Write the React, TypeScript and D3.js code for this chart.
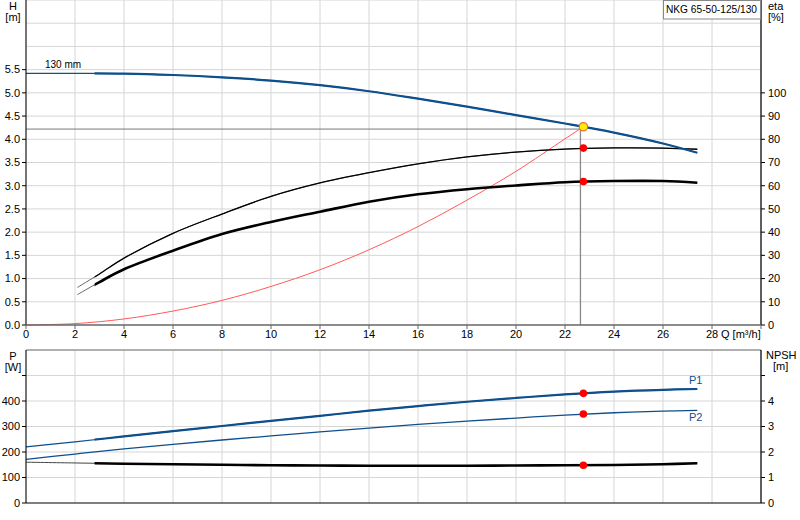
import React from "react";
import * as d3 from "d3";

// ---------- data ----------
const xTicks = [0, 2, 4, 6, 8, 10, 12, 14, 16, 18, 20, 22, 24, 26, 28];
const hTicks = [0, 0.5, 1, 1.5, 2, 2.5, 3, 3.5, 4, 4.5, 5, 5.5];
const etaTicks = [0, 10, 20, 30, 40, 50, 60, 70, 80, 90, 100];
const pTicks = [0, 100, 200, 300, 400];
const npshTicks = [0, 1, 2, 3, 4];

const qH = [0, 2, 4, 6, 8, 10, 12, 14, 16, 18, 20, 22, 24, 26, 27.4];
const headH = [5.42, 5.42, 5.415, 5.385, 5.335, 5.265, 5.165, 5.035, 4.875, 4.705, 4.52, 4.34, 4.145, 3.91, 3.71];

const qEta = [2.1, 3, 4, 6, 8, 10, 12, 14, 16, 18, 20, 22, 24, 26, 27.4];
const etaHyd = [16.2, 22, 28.8, 39.5, 47.8, 55.4, 61.2, 65.6, 69.4, 72.4, 74.5, 75.8, 76.3, 76.2, 75.7];
const etaTot = [13.1, 18.5, 24.0, 32.0, 39.2, 44.4, 48.8, 53.1, 56.3, 58.5, 60.1, 61.5, 62.0, 62.0, 61.3];

const qSys = [0, 2, 4, 6, 8, 10, 12, 14, 16, 18, 20, 22, 22.75];
const hSys = [0, 0.03, 0.13, 0.3, 0.53, 0.83, 1.19, 1.62, 2.12, 2.69, 3.31, 4.01, 4.27];

const qP = [0, 2, 4, 6, 8, 10, 12, 14, 16, 18, 20, 22, 24, 26, 27.4];
const p1 = [220, 240, 261, 282, 302, 322, 342, 362, 380, 397, 412, 426, 437, 444, 447];
const p2 = [171, 192, 212, 230, 247, 263, 279, 294, 308, 321, 333, 345, 354, 360, 363];
const npsh = [1.6, 1.57, 1.54, 1.52, 1.5, 1.48, 1.47, 1.46, 1.46, 1.46, 1.47, 1.48, 1.49, 1.52, 1.56];

const duty = { q: 22.75, h: 4.27, etaHyd: 76.2, etaTot: 61.8, p1: 430, p2: 349, npsh: 1.48 };
const dutyLine = { q: 22.63, h: 4.22 };
const thickFromQ = 2.8;

const title = "NKG 65-50-125/130";
const curveLabel = "130 mm";

// ---------- layout ----------
const W = 800;
const H = 520;
const left = 26;
const right = 761;
const topY0 = 0;
const topY1 = 325;
const botY0 = 350;
const botY1 = 503;

const font = "'Liberation Sans', Arial, sans-serif";
const blue = "#0e4f8c";
const grid = "#d6d6d6";

export default function App() {
  const x = d3.scaleLinear().domain([0, 30]).range([left, right]);
  const yH = d3.scaleLinear().domain([0, 7]).range([topY1, topY0]);
  const yEta = d3.scaleLinear().domain([0, 140]).range([topY1, topY0]);
  const yP = d3.scaleLinear().domain([0, 600]).range([botY1, botY0]);
  const yN = d3.scaleLinear().domain([0, 6]).range([botY1, botY0]);

  const mk = (qs: number[], vs: number[], ys: d3.ScaleLinear<number, number>) =>
    d3
      .line<number>()
      .x((_, i) => x(qs[i]))
      .y((v) => ys(v))
      .curve(d3.curveCatmullRom.alpha(0.5))(vs) || "";

  const hPath = mk(qH, headH, yH);
  const eHydPath = mk(qEta, etaHyd, yEta);
  const eTotPath = mk(qEta, etaTot, yEta);
  const sysPath = mk(qSys, hSys, yH);
  const p1Path = mk(qP, p1, yP);
  const p2Path = mk(qP, p2, yP);
  const nPath = mk(qP, npsh, yN);

  const vGrid = d3.range(0, 31, 2);
  const hGridTop = d3.range(0.5, 7.01, 0.5);
  const hGridBot = d3.range(100, 601, 100);

  const txt = { fontFamily: font, fontSize: 11, fill: "#000" } as const;

  return (
    <svg
      width={W}
      height={H}
      style={{ position: "fixed", left: 0, top: 0, background: "#fff" }}
      xmlns="http://www.w3.org/2000/svg"
    >
      <defs>
        <clipPath id="thickTop">
          <rect x={x(thickFromQ)} y={topY0} width={right - x(thickFromQ)} height={topY1 - topY0} />
        </clipPath>
        <clipPath id="thickBot">
          <rect x={x(thickFromQ)} y={botY0} width={right - x(thickFromQ)} height={botY1 - botY0} />
        </clipPath>
      </defs>
      <rect x={0} y={0} width={W} height={H} fill="#fff" />

      {/* grids top */}
      {vGrid.map((q) => (
        <line key={"vt" + q} x1={x(q)} x2={x(q)} y1={topY0} y2={topY1} stroke={grid} strokeWidth={1} />
      ))}
      {hGridTop.map((h) => (
        <line key={"ht" + h} x1={left} x2={right} y1={yH(h)} y2={yH(h)} stroke={grid} strokeWidth={1} />
      ))}
      {/* grids bottom */}
      {vGrid.map((q) => (
        <line key={"vb" + q} x1={x(q)} x2={x(q)} y1={botY0} y2={botY1} stroke={grid} strokeWidth={1} />
      ))}
      {hGridBot.map((p) => (
        <line key={"hb" + p} x1={left} x2={right} y1={yP(p)} y2={yP(p)} stroke={grid} strokeWidth={1} />
      ))}

      {/* duty crosshair */}
      <line x1={left} x2={x(dutyLine.q)} y1={yH(dutyLine.h)} y2={yH(dutyLine.h)} stroke="#777" strokeWidth={1} />
      <line x1={x(dutyLine.q)} x2={x(dutyLine.q)} y1={yH(dutyLine.h)} y2={topY1} stroke="#888" strokeWidth={1.3} />

      {/* top curves */}
      <path d={sysPath} fill="none" stroke="#ff5a5a" strokeWidth={1} />
      <path d={eHydPath} fill="none" stroke="#555" strokeWidth={0.9} />
      <path d={eHydPath} fill="none" stroke="#000" strokeWidth={1.3} clipPath="url(#thickTop)" />
      <path d={eTotPath} fill="none" stroke="#555" strokeWidth={0.9} />
      <path d={eTotPath} fill="none" stroke="#000" strokeWidth={2.6} clipPath="url(#thickTop)" />
      <path d={hPath} fill="none" stroke={blue} strokeWidth={1.2} />
      <path d={hPath} fill="none" stroke={blue} strokeWidth={2.2} clipPath="url(#thickTop)" />

      <circle cx={x(duty.q)} cy={yEta(duty.etaHyd)} r={3.8} fill="#ff0000" />
      <circle cx={x(duty.q)} cy={yEta(duty.etaTot)} r={3.8} fill="#ff0000" />
      <circle cx={x(duty.q)} cy={yH(duty.h)} r={4.2} fill="#ffee00" stroke="#f07030" strokeWidth={1.2} />

      <text x={45} y={68} {...txt} fontSize={10}>{curveLabel}</text>

      {/* bottom curves */}
      <path d={nPath} fill="none" stroke="#444" strokeWidth={1} />
      <path d={nPath} fill="none" stroke="#000" strokeWidth={2.6} clipPath="url(#thickBot)" />
      <path d={p2Path} fill="none" stroke={blue} strokeWidth={1.3} />
      <path d={p1Path} fill="none" stroke={blue} strokeWidth={1.2} />
      <path d={p1Path} fill="none" stroke={blue} strokeWidth={2.2} clipPath="url(#thickBot)" />
      <circle cx={x(duty.q)} cy={yP(duty.p1)} r={3.8} fill="#ff0000" />
      <circle cx={x(duty.q)} cy={yP(duty.p2)} r={3.8} fill="#ff0000" />
      <circle cx={x(duty.q)} cy={yN(duty.npsh)} r={3.8} fill="#ff0000" />
      <text x={689} y={384} {...txt} fill={blue}>P1</text>
      <text x={689} y={421} {...txt} fill={blue}>P2</text>

      {/* top axes */}
      <line x1={left} x2={left} y1={topY0} y2={topY1} stroke="#000" strokeWidth={1} />
      <line x1={right} x2={right} y1={topY0} y2={topY1} stroke="#000" strokeWidth={1.2} />
      <line x1={left} x2={right} y1={topY1} y2={topY1} stroke="#666" strokeWidth={1.6} />
      {hTicks.map((h) => (
        <g key={"hl" + h}>
          <line x1={left - 4} x2={left} y1={yH(h)} y2={yH(h)} stroke="#000" />
          <text x={20} y={yH(h)} dy="0.35em" textAnchor="end" {...txt}>
            {h.toFixed(1)}
          </text>
        </g>
      ))}
      {etaTicks.map((e) => (
        <g key={"el" + e}>
          <line x1={right} x2={right + 4} y1={yEta(e)} y2={yEta(e)} stroke="#000" />
          <text x={768} y={yEta(e)} dy="0.35em" {...txt}>
            {e}
          </text>
        </g>
      ))}
      {xTicks.map((q) => (
        <g key={"xl" + q}>
          <line x1={x(q)} x2={x(q)} y1={topY1} y2={topY1 + 4} stroke="#666" />
          <text x={x(q)} y={338} textAnchor="middle" {...txt}>
            {q}
          </text>
        </g>
      ))}
      <line x1={right} x2={right} y1={topY1} y2={topY1 + 4} stroke="#666" />
      <text x={721} y={338} {...txt}>Q [m³/h]</text>
      <text x={13} y={10} textAnchor="middle" {...txt}>H</text>
      <text x={13} y={21} textAnchor="middle" {...txt}>[m]</text>
      <text x={768} y={10} {...txt}>eta</text>
      <text x={768} y={21} {...txt}>[%]</text>

      {/* title box */}
      <rect x={663.5} y={0.5} width={right - 663.5 - 0.5} height={18.5} fill="#fff" stroke="#888" strokeWidth={1} />
      <text x={666} y={13} {...txt} fontSize={10.4} textLength={91} lengthAdjust="spacingAndGlyphs">{title}</text>

      {/* bottom axes */}
      <line x1={left} x2={right} y1={botY0} y2={botY0} stroke="#777" strokeWidth={1.2} />
      <line x1={left} x2={left} y1={botY0} y2={botY1} stroke="#000" strokeWidth={1} />
      <line x1={right} x2={right} y1={botY0} y2={botY1} stroke="#000" strokeWidth={1.2} />
      <line x1={left} x2={right} y1={botY1} y2={botY1} stroke="#000" strokeWidth={1.2} />
      {pTicks.map((p) => (
        <g key={"pl" + p}>
          <line x1={left - 4} x2={left} y1={yP(p)} y2={yP(p)} stroke="#000" />
          <text x={20} y={yP(p)} dy="0.35em" textAnchor="end" {...txt}>
            {p}
          </text>
        </g>
      ))}
      {[500].map((p) => (
        <line key={"pt" + p} x1={left - 4} x2={left} y1={yP(p)} y2={yP(p)} stroke="#000" />
      ))}
      {npshTicks.map((n) => (
        <g key={"nl" + n}>
          <line x1={right} x2={right + 4} y1={yN(n)} y2={yN(n)} stroke="#000" />
          <text x={768} y={yN(n)} dy="0.35em" {...txt}>
            {n}
          </text>
        </g>
      ))}
      <line x1={right} x2={right + 4} y1={yN(5)} y2={yN(5)} stroke="#000" />
      <text x={13} y={360} textAnchor="middle" {...txt}>P</text>
      <text x={13} y={371} textAnchor="middle" {...txt}>[W]</text>
      <text x={766} y={359} {...txt}>NPSH</text>
      <text x={773} y={370} {...txt}>[m]</text>
    </svg>
  );
}
